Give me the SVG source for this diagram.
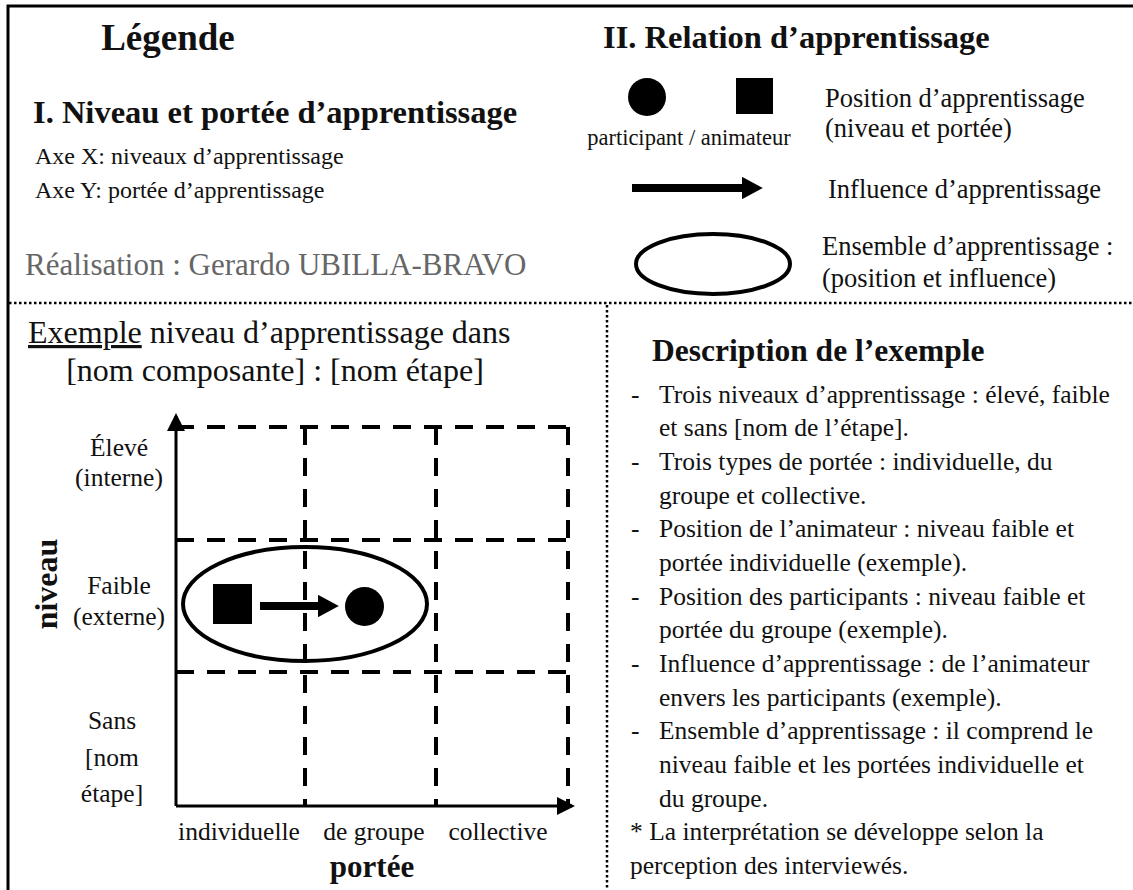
<svg xmlns="http://www.w3.org/2000/svg" width="1133" height="890" viewBox="0 0 1133 890">
<style>
text{font-family:"Liberation Serif","Times New Roman",serif;fill:#111}
.b{font-weight:bold}
.t24{font-size:24px}
.t25{font-size:25.5px}
.t27{font-size:26.5px}
.dot{stroke:#000;stroke-width:2.5;stroke-dasharray:2.5 2.5;fill:none}
.dash{stroke:#000;stroke-width:4;stroke-dasharray:18 13;fill:none}
.axis{stroke:#000;stroke-width:3;fill:none}
</style>
<defs>
<marker id="ah" markerWidth="2.6" markerHeight="2.8" refX="0" refY="1.4" orient="auto" markerUnits="strokeWidth"><path d="M0,0 L2.6,1.4 L0,2.8 z" fill="#000"/></marker>
<marker id="axh" markerWidth="6" markerHeight="6" refX="5" refY="3" orient="auto" markerUnits="strokeWidth"><path d="M0,0 L6,3 L0,6 z" fill="#000"/></marker>
</defs>
<rect width="1133" height="890" fill="#fff"/>
<g id="frame">
<path d="M8,890 V6 H1133" stroke="#000" stroke-width="3" fill="none"/>
<line class="dot" x1="9" y1="303" x2="1133" y2="303"/>
<line class="dot" x1="607" y1="305" x2="607" y2="890"/>
</g>
<g id="legend-left">
<text x="168" y="50" class="b" font-size="37" text-anchor="middle">Légende</text>
<text x="33" y="123" class="b" font-size="32.5">I. Niveau et portée d’apprentissage</text>
<text x="35" y="164" class="t24">Axe X: niveaux d’apprentissage</text>
<text x="35" y="198" class="t24">Axe Y: portée d’apprentissage</text>
<text x="25" y="275" font-size="31" style="fill:#666">Réalisation : Gerardo UBILLA-BRAVO</text>
</g>
<g id="legend-right">
<text x="603" y="48" class="b" font-size="32.5">II. Relation d’apprentissage</text>
<g id="leg-position">
<circle cx="647" cy="97" r="19" fill="#000"/>
<rect x="736" y="78" width="37" height="36" fill="#000"/>
<text x="689" y="145" font-size="22.5" text-anchor="middle">participant / animateur</text>
<text x="825" y="107" class="t27">Position d’apprentissage</text>
<text x="825" y="137" class="t27">(niveau et portée)</text>
</g>
<g id="leg-influence">
<line x1="632" y1="188" x2="742" y2="188" stroke="#000" stroke-width="8" marker-end="url(#ah)"/>
<text x="828" y="198" class="t27">Influence d’apprentissage</text>
</g>
<g id="leg-ensemble">
<ellipse cx="713" cy="264" rx="77" ry="30" fill="none" stroke="#000" stroke-width="4"/>
<text x="822" y="255" class="t27">Ensemble d’apprentissage :</text>
<text x="822" y="287" class="t27">(position et influence)</text>
</g>
</g>
<g id="example">
<text x="28" y="343" font-size="32"><tspan text-decoration="underline">Exemple</tspan> niveau d’apprentissage dans</text>
<text x="275" y="381" font-size="32" text-anchor="middle">[nom composante] : [nom étape]</text>
<g id="grid">
<line class="dash" x1="176" y1="427" x2="568" y2="427"/>
<line class="dash" x1="176" y1="540" x2="568" y2="540"/>
<line class="dash" x1="176" y1="672" x2="568" y2="672"/>
<line class="dash" x1="305" y1="427" x2="305" y2="806"/>
<line class="dash" x1="436" y1="427" x2="436" y2="806"/>
<line class="dash" x1="568" y1="427" x2="568" y2="806"/>
</g>
<g id="axes">
<line class="axis" x1="176" y1="806" x2="176" y2="416" marker-end="url(#axh)"/>
<line class="axis" x1="176" y1="806" x2="572" y2="806" marker-end="url(#axh)"/>
</g>
<g id="y-labels" class="t25">
<text x="119" y="456" text-anchor="middle">Élevé</text>
<text x="119" y="486" text-anchor="middle">(interne)</text>
<text x="119" y="594" text-anchor="middle">Faible</text>
<text x="119" y="625" text-anchor="middle">(externe)</text>
<text x="112" y="729" text-anchor="middle">Sans</text>
<text x="112" y="766" text-anchor="middle">[nom</text>
<text x="112" y="802" text-anchor="middle">étape]</text>
<text transform="translate(57,584) rotate(-90)" class="b" font-size="32" text-anchor="middle">niveau</text>
</g>
<g id="x-labels" class="t25">
<text x="239" y="840" text-anchor="middle">individuelle</text>
<text x="374" y="840" text-anchor="middle">de groupe</text>
<text x="498" y="840" text-anchor="middle">collective</text>
<text x="372" y="877" class="b" font-size="31" text-anchor="middle">portée</text>
</g>
<g id="ensemble">
<ellipse cx="305" cy="604" rx="122" ry="57" fill="none" stroke="#000" stroke-width="4"/>
</g>
<g id="animateur"><rect x="213" y="584" width="39" height="40" fill="#000"/></g>
<g id="participant"><circle cx="364.5" cy="606.5" r="19.5" fill="#000"/></g>
<g id="connectors">
<line x1="260" y1="606" x2="318" y2="606" stroke="#000" stroke-width="8" marker-end="url(#ah)"/>
</g>
</g>
<g id="description" class="t25">
<text x="652" y="361" class="b" font-size="31.5">Description de l’exemple</text>
<text x="631" y="403">-</text><text x="659" y="403">Trois niveaux d’apprentissage : élevé, faible</text>
<text x="659" y="436">et sans [nom de l’étape].</text>
<text x="631" y="470">-</text><text x="659" y="470">Trois types de portée : individuelle, du</text>
<text x="659" y="504">groupe et collective.</text>
<text x="631" y="537">-</text><text x="659" y="537">Position de l’animateur : niveau faible et</text>
<text x="659" y="571">portée individuelle (exemple).</text>
<text x="631" y="605">-</text><text x="659" y="605">Position des participants : niveau faible et</text>
<text x="659" y="638">portée du groupe (exemple).</text>
<text x="631" y="672">-</text><text x="659" y="672">Influence d’apprentissage : de l’animateur</text>
<text x="659" y="706">envers les participants (exemple).</text>
<text x="631" y="739">-</text><text x="659" y="739">Ensemble d’apprentissage : il comprend le</text>
<text x="659" y="773">niveau faible et les portées individuelle et</text>
<text x="659" y="807">du groupe.</text>
<text x="630" y="840">* La interprétation se développe selon la</text>
<text x="630" y="874">perception des interviewés.</text>
</g>
</svg>
